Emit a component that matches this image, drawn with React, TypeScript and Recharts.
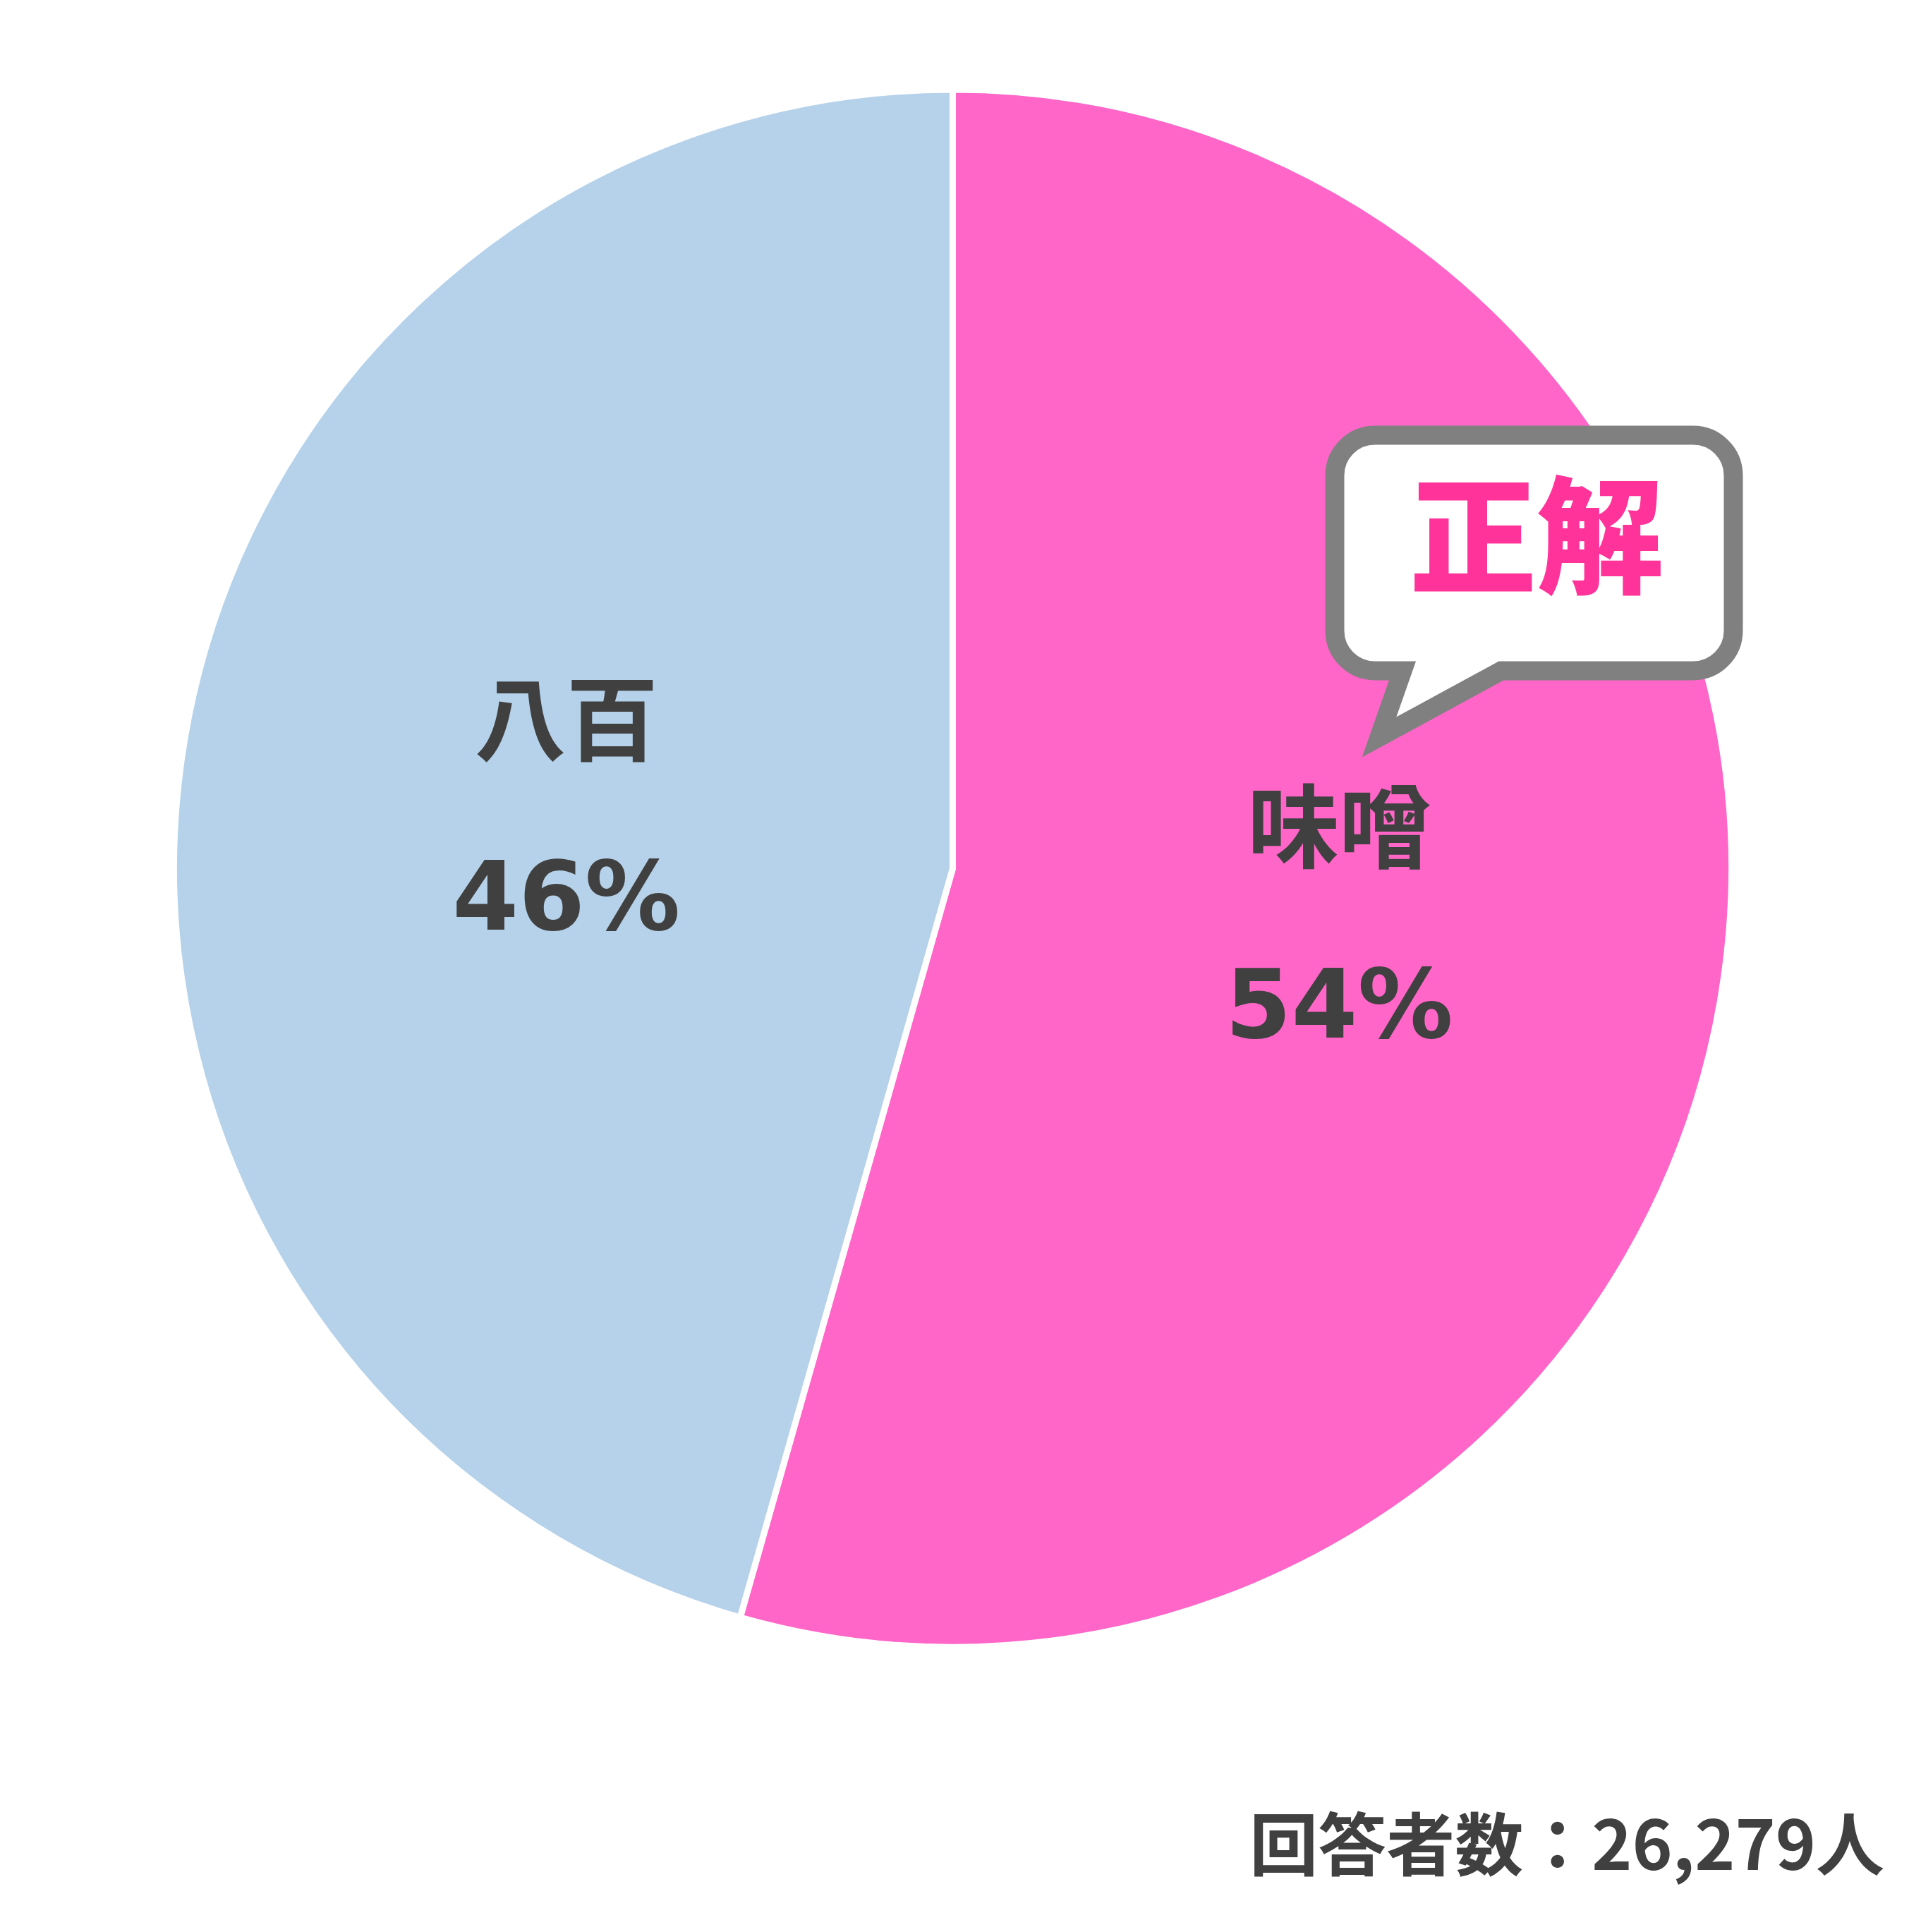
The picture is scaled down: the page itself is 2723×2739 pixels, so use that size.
import React from 'react';
import { PieChart, Pie, Cell } from 'recharts';

const names = ['味噌', '八百'];
const values = [54.4, 45.6];
const colors = ['#FF66C8', '#B5D2EA'];
const calloutText = '正解';
const footnote = '回答者数：26,279人';

const data = names.map((name, i) => ({ name, value: values[i] }));

const W = 2723;
const H = 2739;
const CX = 1350.5;
const CY = 1231;
const R = 1104;
const TEXT = '#404040';

const RAD = Math.PI / 180;

const renderLabel = (props: any) => {
  const { cx, cy, midAngle, index } = props;
  const r = 553;
  const x = cx + r * Math.cos(-midAngle * RAD);
  const y = cy + r * Math.sin(-midAngle * RAD);
  const fam = "'DejaVu Sans', 'Noto Sans CJK JP', sans-serif";
  return (
    <g>
      <text x={x} y={y - 132} textAnchor="middle" dominantBaseline="central" fill={TEXT} fontSize={130} fontWeight="bold" fontFamily={fam}>
        {names[index]}
      </text>
      <text x={x} y={y + 117} textAnchor="middle" dominantBaseline="central" fill={TEXT} fontSize={135} fontWeight="bold" fontFamily={fam}>
        {Math.round(values[index]) + '%'}
      </text>
    </g>
  );
};

const Overlay = () => {
  const L = 1892, Rr = 2457, T = 617, B = 951, r = 57;
  const d = `M ${L + r} ${T} H ${Rr - r} A ${r} ${r} 0 0 1 ${Rr} ${T + r} V ${B - r} A ${r} ${r} 0 0 1 ${Rr - r} ${B} H 2128 L 1955 1045 L 1988 ${B} H ${L + r} A ${r} ${r} 0 0 1 ${L} ${B - r} V ${T + r} A ${r} ${r} 0 0 1 ${L + r} ${T} Z`;
  return (
    <svg width={W} height={H} style={{ position: 'absolute', left: 0, top: 0, pointerEvents: 'none' }}>
      <path d={d} fill="#FFFFFF" stroke="#808080" strokeWidth={27} strokeLinejoin="miter" strokeMiterlimit={10} />
      <text x={2178} y={748} textAnchor="middle" dominantBaseline="central" fill="#FF3399" fontSize={180} fontWeight={900} fontFamily="'Noto Sans CJK JP', sans-serif">
        {calloutText}
      </text>
      <text x={2671} y={2651} textAnchor="end" fill={TEXT} fontSize={97} fontWeight="bold" fontFamily="'Noto Sans CJK JP', sans-serif">
        {footnote}
      </text>
    </svg>
  );
};

export default function App() {
  return (
    <div style={{ position: 'absolute', left: 0, top: 0, width: W, height: H, background: '#fff' }}>
      <PieChart width={W} height={H} margin={{ top: 0, right: 0, bottom: 0, left: 0 }}>
        <Pie
          data={data}
          dataKey="value"
          nameKey="name"
          cx={CX}
          cy={CY}
          outerRadius={R}
          innerRadius={0}
          startAngle={90}
          endAngle={-270}
          stroke="#FFFFFF"
          strokeWidth={9}
          label={renderLabel}
          labelLine={false}
          isAnimationActive={false}
        >
          {data.map((d, i) => (
            <Cell key={d.name} fill={colors[i]} />
          ))}
        </Pie>
      </PieChart>
      <Overlay />
    </div>
  );
}
